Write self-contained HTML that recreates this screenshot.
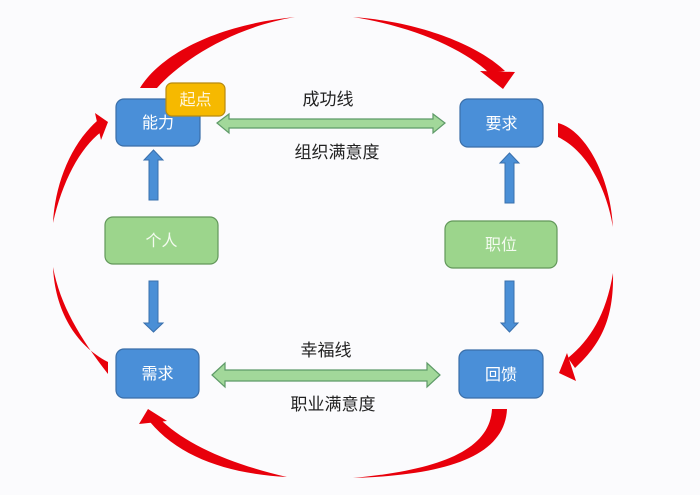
<!DOCTYPE html>
<html>
<head>
<meta charset="utf-8">
<style>
  html,body{margin:0;padding:0;background:#fbfbfd;}
  svg{display:block;}
  text{font-family:"Liberation Sans","Noto Sans CJK SC",sans-serif;}
</style>
</head>
<body>
<svg width="700" height="495" viewBox="0 0 700 495" xmlns="http://www.w3.org/2000/svg">
  <rect x="0" y="0" width="700" height="495" fill="#fbfbfd"/>

  <!-- Red curved arrows -->
  <g fill="#e8000b">
    <!-- top-left tail -->
    <path d="M140 88 C160 55 215 25 295 17 C230 28 180 62 157 88 Z"/>
    <!-- top-right to 要求 -->
    <path d="M353 17 C420 22 478 45 505 71 L489 73 C465 50 415 27 353 17 Z"/>
    <polygon points="480,71 515,72 503,89"/>
    <!-- right-top tail -->
    <path d="M558 123 C585 130 610 175 613 227 C606 185 585 150 558 137 Z"/>
    <!-- right-bottom to 回馈 -->
    <path d="M613 273 C614 320 600 345 575 368 L568 358 C590 340 606 315 613 273 Z"/>
    <polygon points="559,373 567,353 576,381"/>
    <!-- bottom-right tail -->
    <path d="M507 409 C505 455 450 475 353 478 C440 470 490 450 492 409 Z"/>
    <!-- bottom-left to 需求 -->
    <path d="M287 477 C230 474 180 458 150 422 L162 421 C190 447 235 465 287 477 Z"/>
    <polygon points="148,409 139,424 167,421"/>
    <!-- left-bottom tail -->
    <path d="M108 362 C75 345 55 310 53 267 C60 305 80 338 108 374 Z"/>
    <!-- left-top to 能力 -->
    <path d="M53 223 C55 185 70 145 97 121 L101 132 C80 148 62 182 53 223 Z"/>
    <polygon points="108,122 95,113 101,140"/>
  </g>

  <!-- Green double arrows -->
  <polygon points="217,123 229,114 229,119 433,119 433,114 445,123 433,133 433,128 229,128 229,133"
           fill="#a2d89a" stroke="#5e9a68" stroke-width="1.2"/>
  <polygon points="212,375 225,363 225,370 427,370 427,363 440,375 427,387 427,381 225,381 225,387"
           fill="#a2d89a" stroke="#5e9a68" stroke-width="1.2"/>

  <!-- Blue vertical arrows -->
  <g fill="#4a8fd6" stroke="#3a70ad" stroke-width="1">
    <polygon points="153.5,150 163,160 158,160 158,200 149,200 149,160 144,160"/>
    <polygon points="149,281 158,281 158,323 163,323 153.5,332 144,323 149,323"/>
    <polygon points="509.5,153 519,163 514,163 514,203 505,203 505,163 500,163"/>
    <polygon points="505,281 514,281 514,323 518,323 509.5,332 501,323 505,323"/>
  </g>

  <!-- Blue boxes -->
  <g fill="#4a8fd8" stroke="#3a6ea8" stroke-width="1.2">
    <rect x="116" y="99" width="84" height="47" rx="8"/>
    <rect x="460" y="99" width="83" height="48" rx="8"/>
    <rect x="116" y="349" width="83" height="49" rx="8"/>
    <rect x="459" y="350" width="84" height="48" rx="8"/>
  </g>
  <!-- Green boxes -->
  <g fill="#9cd58c" stroke="#62985a" stroke-width="1.2">
    <rect x="105" y="217" width="113" height="47" rx="8"/>
    <rect x="445" y="221" width="112" height="47" rx="8"/>
  </g>
  <!-- 起点 -->
  <rect x="166" y="83" width="59" height="33" rx="6" fill="#f6b900" stroke="#b88a10" stroke-width="1.2"/>

  <!-- Box labels -->
  <g fill="#ffffff" font-size="16" text-anchor="middle">
    <text x="158" y="128">能力</text>
    <text x="501.5" y="129">要求</text>
    <text x="157.5" y="379">需求</text>
    <text x="501" y="380">回馈</text>
    <text x="195.5" y="105" fill="#fff6dc">起点</text>
  </g>
  <g fill="#f4fbf0" font-size="16" text-anchor="middle">
    <text x="161.5" y="246">个人</text>
    <text x="501" y="250">职位</text>
  </g>

  <!-- Line labels -->
  <g fill="#222222" font-size="17" text-anchor="middle">
    <text x="328" y="105">成功线</text>
    <text x="337" y="158">组织满意度</text>
    <text x="326" y="356">幸福线</text>
    <text x="333" y="410">职业满意度</text>
  </g>
</svg>
</body>
</html>
